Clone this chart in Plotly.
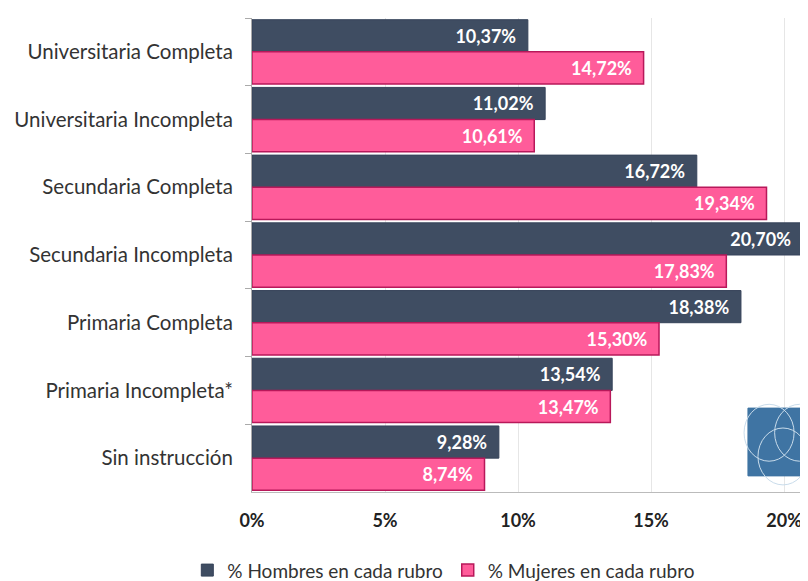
import plotly.graph_objects as go

categories = ["Universitaria Completa", "Universitaria Incompleta", "Secundaria Completa",
              "Secundaria Incompleta", "Primaria Completa", "Primaria Incompleta*", "Sin instrucción"]
hombres = [10.37, 11.02, 16.72, 20.70, 18.38, 13.54, 9.28]
mujeres = [14.72, 10.61, 19.34, 17.83, 15.30, 13.47, 8.74]
x_ticks = [0, 5, 10, 15, 20]
x_tick_labels = ["0%", "5%", "10%", "15%", "20%"]

FONT = "Lato"

def fmt(v):
    return f"{v:.2f}".replace(".", ",") + "%\u00a0\u00a0"

fig = go.Figure()
fig.add_trace(go.Bar(
    y=categories, x=hombres, orientation="h", name="% Hombres en cada rubro",
    marker=dict(color="#3F4D62", line=dict(color="#36435A", width=1)),
    text=[fmt(v) for v in hombres], textposition="inside", insidetextanchor="end",
    textfont=dict(color="white", size=18, family=FONT, weight="bold"),
))
fig.add_trace(go.Bar(
    y=categories, x=mujeres, orientation="h", name="% Mujeres en cada rubro",
    marker=dict(color="#FF5C9A", line=dict(color="#B8185A", width=1.5)),
    text=[fmt(v) for v in mujeres], textposition="inside", insidetextanchor="end",
    textfont=dict(color="white", size=18, family=FONT, weight="bold"),
))

# simple logo-like watermark
fig.add_shape(type="rect", xref="paper", yref="paper", x0=0.892, x1=1.02, y0=0.034, y1=0.177,
              fillcolor="#3F74A3", line=dict(color="#3F74A3", width=1), layer="above")
for cx, cy in [(0.93, 0.125), (0.985, 0.125), (0.955, 0.075)]:
    fig.add_shape(type="circle", xref="paper", yref="paper", x0=cx - 0.045, x1=cx + 0.045,
                  y0=cy - 0.06, y1=cy + 0.06, line=dict(color="#C9DCEB", width=1), layer="above")

fig.update_layout(
    width=800, height=573,
    margin=dict(l=244, r=0, t=10, b=89, autoexpand=False),
    paper_bgcolor="white", plot_bgcolor="white",
    barmode="group", bargap=0.05, bargroupgap=0.0,
    font=dict(family=FONT, color="#333333"),
    showlegend=True,
    legend=dict(orientation="h", x=0.345, xanchor="center", y=-0.125, yanchor="top",
                font=dict(size=19, color="#333333", family=FONT), traceorder="normal"),
    xaxis=dict(range=[0, 20.9], tickvals=x_ticks, ticktext=x_tick_labels,
               showgrid=True, gridcolor="#E6E6E6", gridwidth=1, zeroline=False,
               tickfont=dict(size=18, color="#222222", weight="bold", family=FONT),
               showline=True, linecolor="#BBBBBB", ticks="", ticklabelstandoff=12,
               automargin=False),
    yaxis=dict(autorange="reversed", showline=True, linecolor="#AAAAAA",
               ticks="outside", tickson="boundaries", ticklen=6, tickcolor="#AAAAAA",
               tickfont=dict(size=20.5, color="#333333", family=FONT), ticklabelstandoff=14,
               automargin=False),
)

fig.write_html("out.html")
